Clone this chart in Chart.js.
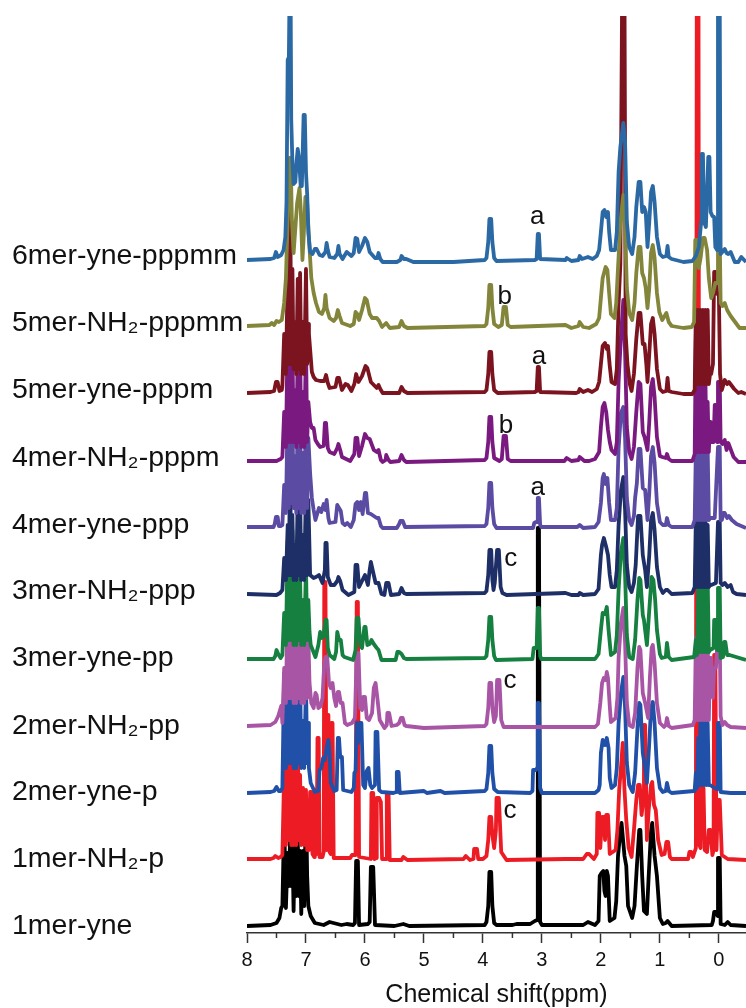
<!DOCTYPE html>
<html><head><meta charset="utf-8">
<style>html,body{margin:0;padding:0;background:#fff}canvas{display:block}</style>
<script src="https://cdn.jsdelivr.net/npm/chart.js@4"></script>
</head><body>
<div style="width:746px;height:1008px"><canvas id="c" width="746" height="1008"></canvas></div>
<script>
const seriesNames=["6mer-yne-pppmm","5mer-NH₂-pppmm","5mer-yne-pppm","4mer-NH₂-pppm","4mer-yne-ppp","3mer-NH₂-ppp","3mer-yne-pp","2mer-NH₂-pp","2mer-yne-p","1mer-NH₂-p","1mer-yne"];
const stackOffsets=[671,605,539,471,405,338,273,205,140,73,7];
const tickValues=[8,7,6,5,4,3,2,1,0];
const minorTickValues=[7.5,6.5,5.5,4.5,3.5,2.5,1.5,0.5];
const labelHeights=[677,610,543,475,408,342,275,207,141,74,7];
const peakLetters=["a","b","a","b","a","c","c","c"];
const peakLetterPpm=[3.08,3.63,3.05,3.61,3.07,3.53,3.54,3.54];
const peakLetterHeight=[716,636,576,507,445,374,252,122];

const s6merYne=[[8,2],[7.6,3],[7.54,4],[7.51,10],[7.48,5],[7.42,7],[7.38,12],[7.35,25],[7.33,60],[7.31,202],[7.29,205],[7.28,262],[7.26,262],[7.25,142],[7.23,100],[7.21,78],[7.18,80],[7.16,100],[7.14,113],[7.12,105],[7.09,76],[7.07,76],[7.04,147],[7.02,147],[7,90],[6.98,68],[6.96,30],[6.93,10],[6.89,8],[6.85,13],[6.82,13],[6.77,7],[6.72,6],[6.67,10],[6.65,19],[6.63,12],[6.6,5],[6.52,4],[6.47,8],[6.45,16],[6.43,8],[6.38,3],[6.31,10],[6.27,8],[6.23,6],[6.19,9],[6.16,24],[6.13,23],[6.1,10],[6.05,16],[6,24],[5.96,20],[5.92,10],[5.83,4],[5.79,4],[5.77,9],[5.74,3],[5.7,0],[5.46,0],[5.4,2],[5.38,6],[5.34,3],[5.3,3],[5.18,0],[4.5,0],[3.97,2],[3.94,4],[3.91,20],[3.89,43],[3.86,43],[3.84,20],[3.81,4],[3.77,1],[3.12,2],[3.09,3],[3.07,28],[3.05,28],[3.03,3],[2.6,2],[2.58,4],[2.5,1],[2.38,2],[2.36,6],[2.32,3],[2.22,5],[2.14,3],[2.07,6],[2.03,12],[2,30],[1.97,50],[1.94,52],[1.91,45],[1.88,50],[1.86,30],[1.83,12],[1.76,12],[1.73,30],[1.7,90],[1.67,115],[1.62,139],[1.59,120],[1.56,40],[1.52,15],[1.47,8],[1.43,25],[1.4,55],[1.36,80],[1.33,80],[1.3,50],[1.27,55],[1.24,50],[1.21,15],[1.18,40],[1.15,70],[1.12,76],[1.09,60],[1.05,25],[1,8],[0.95,5],[0.89,6],[0.87,16],[0.85,5],[0.8,3],[0.6,0],[0.45,1],[0.39,6],[0.34,15],[0.3,40],[0.29,108],[0.27,108],[0.25,40],[0.22,35],[0.18,105],[0.16,105],[0.14,50],[0.11,46],[0.08,45],[0.06,15],[0.03,12],[0.015,250],[-0.015,250],[-0.03,8],[-0.1,13],[-0.13,9],[-0.16,8],[-0.2,10],[-0.27,0],[-0.33,0],[-0.38,5],[-0.46,0]];
const s5merNH2=[[8,2],[7.62,3],[7.58,5],[7.54,3],[7.5,7],[7.46,6],[7.41,8],[7.37,25],[7.34,50],[7.31,110],[7.28,170],[7.26,170],[7.24,110],[7.21,75],[7.18,100],[7.15,125],[7.11,140],[7.09,120],[7.06,68],[7.04,90],[7.01,131],[6.98,125],[6.95,90],[6.91,50],[6.87,35],[6.83,25],[6.78,16],[6.73,14],[6.69,20],[6.67,33],[6.65,20],[6.6,10],[6.53,7],[6.49,10],[6.46,18],[6.43,12],[6.39,5],[6.25,2],[6.19,4],[6.16,16],[6.13,14],[6.1,8],[6.05,18],[6,30],[5.97,28],[5.92,14],[5.88,10],[5.8,10],[5.76,7],[5.71,1],[5.64,5],[5.58,0],[5.42,1],[5.38,7],[5.34,2],[5.28,0],[3.97,2],[3.94,4],[3.91,20],[3.89,43],[3.86,43],[3.84,20],[3.81,4],[3.74,1],[3.68,3],[3.65,21],[3.61,21],[3.58,3],[3.53,1],[2.6,3],[2.5,0],[2.38,2],[2.36,6],[2.3,1],[2.2,0],[2.08,4],[2.03,10],[2,30],[1.97,50],[1.92,61],[1.89,58],[1.86,35],[1.83,14],[1.77,10],[1.74,25],[1.71,60],[1.67,105],[1.62,133],[1.59,100],[1.56,40],[1.52,15],[1.47,8],[1.43,25],[1.4,55],[1.36,81],[1.33,81],[1.3,55],[1.27,50],[1.24,40],[1.21,20],[1.18,40],[1.15,75],[1.12,83],[1.09,70],[1.05,35],[1.01,16],[0.96,8],[0.89,15],[0.85,6],[0.8,2],[0.6,0],[0.46,1],[0.42,6],[0.4,88],[0.37,88],[0.34,60],[0.31,70],[0.27,90],[0.24,90],[0.2,78],[0.17,50],[0.13,30],[0.1,35],[0.06,45],[0.03,45],[0.015,90],[-0.015,90],[-0.03,25],[-0.06,22],[-0.1,25],[-0.14,18],[-0.2,12],[-0.25,8],[-0.35,0],[-0.46,0]];
const s5merYne=[[8,1],[7.6,2],[7.54,3],[7.51,12],[7.48,12],[7.45,3],[7.41,4],[6.95,60],[6.9,22],[6.87,17],[6.83,14],[6.76,13],[6.69,13],[6.66,19],[6.63,11],[6.6,6],[6.5,7],[6.47,16],[6.44,16],[6.39,4],[6.33,10],[6.29,9],[6.23,3],[6.18,10],[6.15,20],[6.11,12],[6.05,18],[5.99,28],[5.96,26],[5.9,12],[5.8,6],[5.77,9],[5.74,5],[5.7,1],[5.42,1],[5.38,7],[5.34,3],[5.28,1],[3.97,2],[3.94,4],[3.91,20],[3.89,42],[3.86,42],[3.84,20],[3.81,4],[3.75,1],[3.12,2],[3.09,3],[3.07,27],[3.05,27],[3.03,2],[2.42,1],[2.38,2],[2.36,5],[2.3,2],[2.22,4],[2.15,2],[2.07,5],[2.03,12],[2,30],[1.97,48],[1.93,51],[1.9,45],[1.88,48],[1.85,28],[1.82,12],[1.76,10],[1.73,25],[1.7,90],[1.67,130],[1.64,400],[1.6,400],[1.58,60],[1.55,30],[1.51,10],[1.48,3],[1.44,20],[1.4,55],[1.36,81],[1.33,81],[1.29,50],[1.26,50],[1.23,30],[1.21,12],[1.18,40],[1.15,70],[1.12,76],[1.09,60],[1.05,25],[1,5],[0.95,2],[0.89,3],[0.87,16],[0.85,3],[0.8,2],[0.6,0],[0.45,0],[0.13,20],[0.1,30],[0.08,122],[0.05,122],[0.03,100],[0,100],[-0.02,20],[-0.05,4],[-0.1,14],[-0.14,10],[-0.17,12],[-0.26,5],[-0.33,1],[-0.38,2],[-0.46,0]];
const s4merNH2=[[8,1],[7.5,1],[7.43,3],[6.93,40],[6.9,34],[6.87,34],[6.84,22],[6.8,18],[6.76,15],[6.7,16],[6.68,39],[6.66,39],[6.63,14],[6.6,10],[6.52,8],[6.47,14],[6.45,18],[6.42,12],[6.39,5],[6.25,1],[6.18,8],[6.16,24],[6.13,24],[6.1,6],[6.05,16],[6,28],[5.96,24],[5.92,23],[5.85,12],[5.8,10],[5.77,12],[5.73,2],[5.7,0],[5.65,2],[5.64,7],[5.6,2],[5.57,0],[5.42,1],[5.38,7],[5.34,2],[5.3,0],[3.97,2],[3.94,4],[3.91,20],[3.89,45],[3.86,45],[3.84,20],[3.81,4],[3.72,1],[3.68,3],[3.65,26],[3.61,26],[3.58,3],[3.53,1],[2.62,1],[2.58,4],[2.5,1],[2.38,2],[2.36,5],[2.28,1],[2.2,1],[2.1,3],[2.03,10],[2,35],[1.97,55],[1.94,59],[1.91,50],[1.88,32],[1.85,20],[1.82,12],[1.76,8],[1.73,20],[1.7,80],[1.66,125],[1.62,162],[1.59,110],[1.56,35],[1.52,10],[1.48,3],[1.44,15],[1.4,50],[1.36,80],[1.33,78],[1.29,30],[1.26,25],[1.21,12],[1.18,40],[1.15,75],[1.12,83],[1.09,65],[1.05,25],[1,6],[0.96,5],[0.9,4],[0.88,8],[0.85,3],[0.8,1],[0.45,1],[0.14,20],[0.09,20],[0.07,57],[0.05,57],[0.03,20],[0.015,80],[-0.015,80],[-0.03,20],[-0.06,18],[-0.1,22],[-0.13,12],[-0.16,19],[-0.25,5],[-0.33,0],[-0.46,0]];
const s4merYne=[[8,1],[7.55,1],[7.53,4],[7.51,11],[7.48,11],[7.46,2],[7.43,2],[6.93,55],[6.9,30],[6.87,18],[6.84,8],[6.8,16],[6.78,20],[6.74,16],[6.7,24],[6.67,18],[6.65,28],[6.62,10],[6.6,5],[6.5,6],[6.47,23],[6.44,20],[6.41,17],[6.38,5],[6.34,3],[6.3,5],[6.24,1],[6.19,8],[6.16,24],[6.13,26],[6.1,18],[6.07,26],[6.04,14],[6,35],[5.98,35],[5.95,15],[5.9,14],[5.85,12],[5.8,10],[5.77,10],[5.73,2],[5.7,0],[5.46,0],[5.42,4],[5.4,7],[5.36,7],[5.32,1],[3.97,2],[3.94,4],[3.91,20],[3.89,45],[3.86,45],[3.84,20],[3.81,4],[3.77,0],[3.15,0],[3.13,5],[3.1,6],[3.08,6],[3.07,30],[3.05,30],[3.03,3],[3.01,1],[2.4,1],[2.36,3],[2.3,0],[2.1,1],[2.04,6],[2,25],[1.97,50],[1.95,54],[1.92,44],[1.89,50],[1.86,25],[1.83,8],[1.76,8],[1.73,20],[1.7,80],[1.66,115],[1.62,121],[1.59,90],[1.56,30],[1.52,8],[1.48,3],[1.44,12],[1.42,30],[1.39,45],[1.36,79],[1.33,79],[1.29,40],[1.25,38],[1.21,8],[1.18,35],[1.15,72],[1.12,81],[1.09,65],[1.05,25],[1,6],[0.95,3],[0.9,3],[0.88,10],[0.85,3],[0.8,1],[0.45,1],[0.07,10],[0.015,81],[-0.015,81],[-0.03,8],[-0.05,8],[-0.08,15],[-0.1,15],[-0.14,10],[-0.17,12],[-0.22,8],[-0.3,4],[-0.46,0]];
const s3merNH2=[[8,1],[7.5,0],[7.44,2],[6.93,20],[6.87,17],[6.83,18],[6.78,20],[6.72,12],[6.68,25],[6.67,52],[6.65,52],[6.63,18],[6.58,10],[6.52,10],[6.47,14],[6.45,18],[6.42,14],[6.38,5],[6.28,0],[6.18,3],[6.16,30],[6.13,30],[6.1,8],[6.05,14],[6,20],[5.95,10],[5.92,25],[5.9,33],[5.87,25],[5.82,12],[5.77,12],[5.72,1],[5.67,0],[5.64,12],[5.6,12],[5.56,0],[5.42,1],[5.38,7],[5.34,2],[5.3,1],[3.97,2],[3.94,4],[3.91,20],[3.89,45],[3.86,45],[3.84,15],[3.82,5],[3.8,12],[3.76,45],[3.73,45],[3.7,8],[3.67,2],[3.6,0],[2.6,2],[2.5,0],[2.38,0],[2.36,2],[2.3,0],[2.1,1],[2.04,6],[2,40],[1.98,50],[1.95,57],[1.91,48],[1.88,40],[1.85,20],[1.82,8],[1.76,8],[1.73,25],[1.7,70],[1.66,105],[1.62,118],[1.59,85],[1.56,30],[1.52,8],[1.48,3],[1.44,12],[1.41,30],[1.37,79],[1.33,79],[1.29,40],[1.25,25],[1.22,8],[1.18,40],[1.15,75],[1.12,82],[1.09,65],[1.05,28],[1,8],[0.95,2],[0.9,5],[0.87,5],[0.8,1],[0.45,2],[0.13,10],[0.05,12],[0.015,73],[-0.015,73],[-0.03,12],[-0.06,10],[-0.1,12],[-0.15,8],[-0.2,10],[-0.24,3],[-0.3,1],[-0.46,0]];
const s3merYne=[[8,1],[7.55,1],[7.52,4],[7.5,10],[7.47,6],[7.43,2],[6.94,28],[6.92,15],[6.84,3],[6.79,15],[6.76,28],[6.73,22],[6.7,24],[6.67,40],[6.65,40],[6.63,12],[6.6,5],[6.52,1],[6.49,8],[6.47,28],[6.44,20],[6.41,20],[6.38,5],[6.35,3],[6.2,0],[6.16,10],[6.14,42],[6.11,42],[6.08,15],[6.05,12],[6.01,33],[5.99,33],[5.96,15],[5.92,16],[5.89,20],[5.85,16],[5.8,12],[5.77,10],[5.72,0],[5.48,0],[5.45,8],[5.42,8],[5.38,6],[5.34,2],[5.3,1],[3.97,2],[3.94,4],[3.91,20],[3.89,43],[3.86,43],[3.84,20],[3.81,4],[3.78,0],[3.16,1],[3.14,12],[3.09,12],[3.07,52],[3.05,52],[3.03,4],[3.01,1],[2.6,1],[2.1,1],[2.04,6],[2,30],[1.97,47],[1.93,46],[1.9,53],[1.87,30],[1.83,5],[1.76,8],[1.73,25],[1.7,70],[1.66,108],[1.62,122],[1.59,85],[1.56,25],[1.52,3],[1.46,1],[1.42,20],[1.38,60],[1.35,82],[1.33,80],[1.29,45],[1.27,40],[1.25,30],[1.22,15],[1.18,50],[1.14,83],[1.11,80],[1.08,60],[1.05,30],[1,6],[0.97,2],[0.9,3],[0.88,17],[0.85,3],[0.8,0],[0.42,3],[0.09,12],[0.08,40],[0.05,40],[0.03,10],[0.015,72],[-0.015,72],[-0.03,2],[-0.07,3],[-0.09,18],[-0.11,18],[-0.14,5],[-0.18,5],[-0.46,0]];
const s2merNH2=[[8,2],[7.6,3],[7.52,6],[7.47,12],[7.42,22],[6.94,45],[6.91,25],[6.87,20],[6.84,35],[6.82,33],[6.79,20],[6.75,22],[6.72,30],[6.69,65],[6.67,71],[6.64,71],[6.61,45],[6.58,40],[6.55,45],[6.52,30],[6.49,22],[6.46,36],[6.44,36],[6.41,25],[6.38,25],[6.34,5],[6.3,3],[6.22,5],[6.17,10],[6.14,75],[6.11,75],[6.08,20],[6.05,18],[6.03,31],[6,31],[5.97,10],[5.93,8],[5.88,15],[5.85,40],[5.82,45],[5.79,30],[5.75,8],[5.67,0],[5.63,3],[5.62,15],[5.59,15],[5.55,2],[5.46,3],[5.42,5],[5.39,10],[5.36,10],[5.33,3],[5.3,2],[5,0],[3.97,2],[3.94,4],[3.91,20],[3.89,45],[3.86,45],[3.84,20],[3.81,6],[3.78,12],[3.76,48],[3.72,48],[3.69,8],[3.65,1],[2.6,1],[2.1,1],[2.05,4],[2.01,25],[1.98,45],[1.95,50],[1.92,48],[1.9,56],[1.88,50],[1.85,22],[1.83,6],[1.75,10],[1.72,30],[1.7,70],[1.66,105],[1.62,120],[1.59,85],[1.56,25],[1.52,3],[1.46,1],[1.42,15],[1.38,60],[1.35,81],[1.33,78],[1.29,35],[1.25,25],[1.2,10],[1.17,50],[1.14,80],[1.12,83],[1.09,65],[1.05,25],[1,5],[0.93,1],[0.9,3],[0.88,10],[0.85,2],[0.8,0],[0.44,3],[0.13,70],[0.1,30],[0.08,60],[0.05,60],[0.03,80],[0.015,90],[-0.015,90],[-0.03,12],[-0.06,3],[-0.1,6],[-0.14,3],[-0.2,1],[-0.46,0]];
const s2merYne=[[8,0],[7.6,1],[7.54,2],[7.5,6],[7.46,2],[7.43,2],[6.95,25],[6.92,10],[6.85,1],[6.79,2],[6.77,23],[6.74,25],[6.71,35],[6.68,33],[6.65,45],[6.62,53],[6.6,40],[6.58,10],[6.52,2],[6.48,3],[6.46,55],[6.44,55],[6.42,36],[6.39,36],[6.37,3],[6.23,1],[6.19,5],[6.18,20],[6.16,22],[6.14,70],[6.12,50],[6.09,70],[6.06,70],[6.03,8],[6,5],[5.97,22],[5.94,25],[5.91,8],[5.88,5],[5.83,8],[5.82,61],[5.79,61],[5.76,3],[5.72,1],[5.52,0],[5.47,1],[5.46,21],[5.43,21],[5.41,0],[5,2],[4.95,0],[4.72,2],[4.65,0],[3.97,2],[3.94,4],[3.91,20],[3.89,47],[3.86,47],[3.84,20],[3.81,4],[3.75,1],[3.2,0],[3.16,2],[3.15,23],[3.1,23],[3.08,25],[3.07,90],[3.05,90],[3.03,5],[3,0],[2.1,0],[2.04,3],[2.02,8],[2,40],[1.97,53],[1.93,48],[1.9,55],[1.87,45],[1.85,15],[1.82,5],[1.76,8],[1.73,25],[1.7,70],[1.66,100],[1.62,116],[1.59,85],[1.56,30],[1.52,8],[1.48,3],[1.46,1],[1.42,20],[1.38,65],[1.35,90],[1.33,88],[1.29,40],[1.25,25],[1.22,10],[1.18,50],[1.15,85],[1.12,91],[1.09,70],[1.05,25],[1,5],[0.95,1],[0.9,2],[0.88,10],[0.85,2],[0.8,0],[0.42,2],[0.14,8],[0.07,5],[0.03,4],[0.015,70],[-0.015,70],[-0.03,1],[-0.2,0],[-0.46,0]];
const s1merNH2=[[8,1],[7.6,1],[7.55,2],[7.52,4],[7.47,2],[7.43,3],[6.95,10],[6.93,68],[6.91,68],[6.89,6],[6.86,3],[6.85,70],[6.83,70],[6.82,6],[6.805,122],[6.785,122],[6.77,3],[6.72,3],[6.7,8],[6.69,278],[6.67,278],[6.65,10],[6.64,145],[6.62,145],[6.6,8],[6.58,6],[6.57,137],[6.55,137],[6.53,2],[6.25,2],[6.22,5],[6.16,5],[6.14,258],[6.12,258],[6.1,3],[5.9,1],[5.89,67],[5.86,67],[5.84,1],[5.81,2],[5.8,62],[5.76,62],[5.73,58],[5.71,1],[5.64,1],[5.63,67],[5.6,67],[5.58,0],[5.38,0],[5.35,3],[5.28,0],[4.33,1],[4.29,4],[4.22,0],[4.16,1],[4.15,11],[4.1,11],[4.08,1],[4,1],[3.94,4],[3.91,20],[3.89,43],[3.86,43],[3.84,25],[3.81,12],[3.78,30],[3.77,62],[3.73,62],[3.69,8],[3.6,0],[2.6,1],[2.3,1],[2.24,6],[2.2,6],[2.12,1],[2.07,6],[2.06,47],[2.03,47],[2.01,12],[1.98,43],[1.95,43],[1.93,20],[1.91,45],[1.88,45],[1.85,6],[1.75,10],[1.72,30],[1.69,70],[1.65,100],[1.63,117],[1.6,70],[1.57,40],[1.53,12],[1.48,3],[1.44,30],[1.4,60],[1.37,75],[1.34,75],[1.31,45],[1.28,60],[1.27,135],[1.25,135],[1.22,20],[1.19,50],[1.15,75],[1.13,78],[1.1,55],[1.07,50],[1.03,20],[0.97,5],[0.92,6],[0.89,18],[0.86,18],[0.83,3],[0.8,1],[0.52,1],[0.5,8],[0.47,8],[0.44,3],[0.39,12],[0.375,844],[0.345,844],[0.33,15],[0.31,12],[0.3,72],[0.26,72],[0.24,10],[0.2,8],[0.17,30],[0.14,30],[0.11,5],[0.09,10],[0.08,205],[0.06,205],[0.04,10],[0.015,60],[-0.015,60],[-0.05,5],[-0.15,1],[-0.46,0]];
const s1merYne=[[8,0],[7.6,1],[7.5,3],[7.45,8],[7.42,18],[6.95,20],[6.92,10],[6.85,3],[6.7,1],[6.6,4],[6.4,1],[6.31,2],[6.2,1],[6.17,3],[6.15,65],[6.12,65],[6.1,1],[5.95,2],[5.92,4],[5.9,59],[5.86,59],[5.83,1],[5.5,0],[5.35,2],[5.25,0],[3.97,1],[3.94,4],[3.91,20],[3.89,54],[3.86,54],[3.84,20],[3.81,3],[3.77,1],[3.5,1],[3.43,2],[3.2,2],[3.12,5],[3.08,6],[3.07,398],[3.05,398],[3.03,4],[3,1],[2.75,1],[2.3,1],[2.22,4],[2.1,1],[2.04,5],[2.02,50],[1.99,53],[1.96,55],[1.94,35],[1.92,30],[1.9,55],[1.88,50],[1.85,5],[1.77,8],[1.74,25],[1.71,70],[1.67,95],[1.65,103],[1.6,70],[1.57,60],[1.54,20],[1.47,8],[1.43,20],[1.39,60],[1.35,96],[1.33,96],[1.3,50],[1.27,15],[1.22,12],[1.19,50],[1.15,95],[1.13,103],[1.09,70],[1.05,50],[1,8],[0.95,2],[0.9,3],[0.87,5],[0.8,0],[0.12,1],[0.1,5],[0.08,14],[0.05,14],[0.02,10],[0.015,68],[-0.015,68],[-0.03,2],[-0.1,1],[-0.15,4],[-0.2,1],[-0.46,0]];

const aromaticPpm=[7.40,7.37,7.34,7.31,7.29,7.27,7.25,7.23,7.21,7.19,7.165,7.14,7.12,7.10,7.08,7.05,7.03,7.00,6.98,6.96];
const aromatic5merYne=[8,60,20,120,30,227,30,125,25,72,20,115,25,121,20,72,20,125,30,70];
const aromatic4merNH2=[5,50,15,130,20,190,20,120,20,72,15,110,20,119,15,70,15,120,20,60];
const aromatic4merYne=[3,43,15,120,20,150,25,115,20,72,15,115,20,120,15,75,15,125,20,90];
const aromatic3merNH2=[5,37,15,70,20,138,20,80,15,50,15,100,20,105,15,60,15,110,20,95];
const aromatic3merYne=[5,47,15,120,20,155,20,130,15,85,15,95,20,85,15,60,15,95,20,60];
const aromatic2merNH2=[5,60,25,135,30,135,30,130,25,125,25,125,30,125,25,120,25,125,30,90];
const aromatic2merYne=[5,120,25,135,30,145,30,130,25,120,25,130,30,120,25,72,25,110,30,70];
const aromatic1merNH2=[5,88,15,157,20,103,15,103,15,100,15,133,20,85,15,72,15,70,10,12];
const aromatic1merYne=[20,106,18,73,40,86,40,80,15,80,30,88,30,75,12,75,20,126,50,20];
const aromaticBySeries=[null,null,aromatic5merYne,aromatic4merNH2,aromatic4merYne,aromatic3merNH2,aromatic3merYne,aromatic2merNH2,aromatic2merYne,aromatic1merNH2,aromatic1merYne];

const silaPpm=[0.41,0.39,0.37,0.35,0.33,0.31,0.29,0.27,0.25,0.23,0.21,0.19,0.17,0.15];
const sila5merYne=[4,84,10,84,10,84,10,84,10,84,10,84,10,20];
const sila4merNH2=[8,124,10,124,10,90,10,92,10,92,10,60,10,40];
const sila4merYne=[8,78,8,80,8,81,8,81,8,80,8,80,8,10];
const sila3merNH2=[8,78,8,80,8,85,8,90,8,90,8,70,8,10];
const sila3merYne=[3,20,5,70,8,82,8,82,8,82,8,82,8,10];
const sila2merNH2=[8,90,8,100,8,100,8,100,8,95,8,90,8,70];
const sila2merYne=[3,20,5,55,8,83,8,83,8,85,8,70,8,8];
const silaBySeries=[null,null,sila5merYne,sila4merNH2,sila4merYne,sila3merNH2,sila3merYne,sila2merNH2,sila2merYne,null,null];

const seriesValues=[s6merYne,s5merNH2,s5merYne,s4merNH2,s4merYne,s3merNH2,s3merYne,s2merNH2,s2merYne,s1merNH2,s1merYne];
const seriesColors=["#2b69a5","#83853a","#7c1420","#7a1a80","#5b4ba3","#1e2e66","#15803f","#a855a5","#2050a8","#ed1c24","#000000"];

function spectrum(i){
  let pts=seriesValues[i].slice();
  if(aromaticBySeries[i]) pts=pts.concat(aromaticPpm.map((p,k)=>[p,aromaticBySeries[i][k]]));
  if(silaBySeries[i]) pts=pts.concat(silaPpm.map((p,k)=>[p,silaBySeries[i][k]]));
  return pts.sort((a,b)=>b[0]-a[0]).map(p=>({x:p[0],y:p[1]+stackOffsets[i]}));
}

const overlayPlugin={id:"overlay",afterDatasetsDraw(chart){
  const {ctx,scales:{x,y}}=chart;
  ctx.save();
  ctx.strokeStyle="#333";ctx.lineWidth=1.5;
  minorTickValues.forEach(v=>{const p=x.getPixelForValue(v);ctx.beginPath();ctx.moveTo(p,y.bottom);ctx.lineTo(p,y.bottom+5);ctx.stroke();});
  ctx.fillStyle="#111";ctx.textBaseline="middle";
  ctx.font="28.5px 'Liberation Sans'";ctx.textAlign="left";
  seriesNames.forEach((n,i)=>ctx.fillText(n,12,y.getPixelForValue(labelHeights[i])));
  ctx.font="26px 'Liberation Sans'";ctx.textAlign="center";
  peakLetters.forEach((t,i)=>ctx.fillText(t,x.getPixelForValue(peakLetterPpm[i]),y.getPixelForValue(peakLetterHeight[i])));
  ctx.restore();
}};

new Chart(document.getElementById("c"),{
  type:"line",
  data:{datasets:seriesNames.map((n,i)=>({
    label:n,
    data:spectrum(i),
    borderColor:seriesColors[i],borderWidth:3.8,pointRadius:0,tension:0,fill:false,
    borderJoinStyle:"round",clip:0
  }))},
  options:{
    responsive:false,animation:false,
    layout:{padding:{left:247,top:16,right:0,bottom:0}},
    plugins:{legend:{display:false},title:{display:false},tooltip:{enabled:false}},
    scales:{
      x:{type:"linear",reverse:true,min:-0.46,max:8,
        afterBuildTicks(s){s.ticks=tickValues.map(value=>({value}));},
        afterFit(s){s.height=75;},
        grid:{display:true,drawOnChartArea:false,drawTicks:true,tickLength:10,tickColor:"#333",tickWidth:1.5},
        border:{display:true,color:"#333",width:1.5},
        ticks:{color:"#111",maxRotation:0,autoSkip:false,padding:5,font:{family:"'Liberation Sans'",size:20},callback:v=>String(v)},
        title:{display:true,text:"Chemical shift(ppm)",color:"#111",font:{family:"'Liberation Sans'",size:25,lineHeight:1.04},padding:{top:0,bottom:0}}
      },
      y:{type:"linear",min:0,max:917,display:false}
    }
  },
  plugins:[overlayPlugin]
});
</script>
</body></html>
